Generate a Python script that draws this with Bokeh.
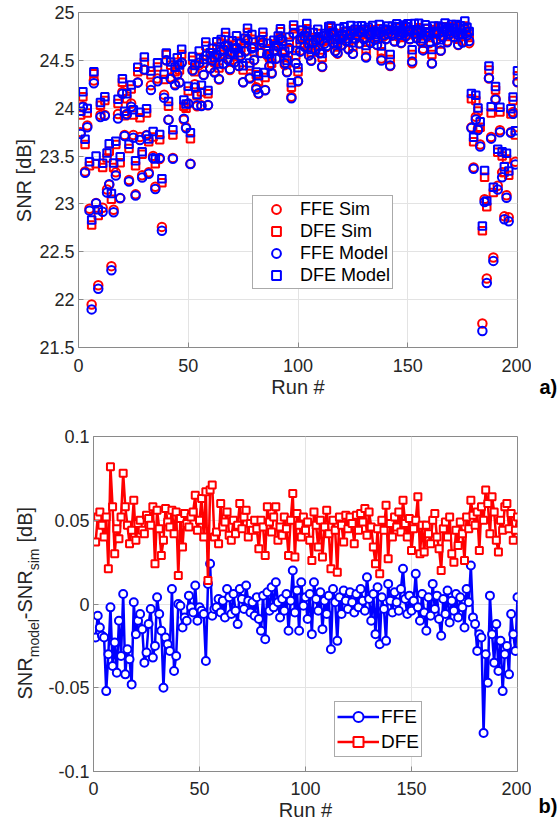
import math
from bokeh.plotting import figure
from bokeh.layouts import column, row
from bokeh.models import Range1d, Legend, LegendItem, FixedTicker
from bokeh.core.properties import value
from bokeh.embed import file_html
from bokeh.resources import INLINE

# ---------------- data ----------------
runs = list(range(1, 201))

ffe_sim = [
    23.75, 24.02, 23.34, 23.82, 22.95, 21.95, 24.29, 23.01, 22.15, 23.93,
    22.96, 23.93, 23.15, 23.20, 22.35, 22.94, 23.33, 23.94, 23.06, 24.17,
    23.72, 23.94, 23.25, 24.05, 23.72, 23.10, 24.27, 23.70, 23.30, 24.40,
    23.72, 23.33, 24.24, 23.50, 23.18, 24.31, 23.47, 22.76, 24.14, 24.50,
    23.88, 24.32, 23.48, 24.25, 24.35, 24.27, 24.48, 23.88, 23.80, 24.05,
    23.42, 24.40, 24.25, 24.02, 24.45, 24.03, 24.35, 24.55, 24.03, 24.42,
    24.50, 24.38, 24.55, 24.30, 24.60, 24.46, 24.66, 24.52, 24.40, 24.58,
    24.48, 24.62, 24.44, 24.55, 24.27, 24.60, 24.71, 24.32, 24.64, 24.50,
    24.22, 24.15, 24.58, 24.68, 24.19, 24.55, 24.44, 24.37, 24.60, 24.52,
    24.64, 24.74, 24.58, 24.45, 24.38, 24.62, 24.12, 24.77, 24.47, 24.28,
    24.60, 24.72, 24.66, 24.78, 24.55, 24.50, 24.68, 24.62, 24.73, 24.58,
    24.43, 24.70, 24.64, 24.76, 24.80, 24.68, 24.60, 24.57, 24.72, 24.66,
    24.75, 24.70, 24.62, 24.77, 24.57, 24.72, 24.76, 24.68, 24.78, 24.72,
    24.54, 24.77, 24.70, 24.78, 24.74, 24.66, 24.79, 24.52, 24.75, 24.72,
    24.78, 24.44, 24.76, 24.70, 24.80, 24.74, 24.68, 24.79, 24.75, 24.81,
    24.72, 24.47, 24.78, 24.74, 24.80, 24.70, 24.62, 24.79, 24.76, 24.68,
    24.47, 24.78, 24.72, 24.80, 24.60, 24.75, 24.82, 24.70, 24.77, 24.81,
    24.74, 24.80, 24.66, 24.78, 24.70, 24.82, 24.76, 24.68, 23.80, 23.38,
    23.91, 23.79, 23.62, 21.75, 23.05, 22.22, 24.31, 23.70, 22.44, 24.10,
    23.19, 23.77, 23.33, 22.87, 23.09, 22.86, 23.75, 23.96, 23.44, 24.27,
]

dfe_sim = [
    23.93, 24.12, 23.62, 23.95, 23.40, 22.78, 24.36, 23.42, 22.88, 24.03,
    23.38, 24.08, 23.48, 23.55, 23.05, 23.38, 23.62, 24.05, 23.43, 24.27,
    23.92, 24.10, 23.58, 24.20, 23.93, 23.40, 24.38, 23.90, 23.52, 24.48,
    23.95, 23.65, 24.35, 23.70, 23.42, 24.43, 23.67, 23.22, 24.30, 24.56,
    24.02, 24.45, 23.72, 24.38, 24.48, 24.40, 24.56, 24.02, 24.00, 24.18,
    23.68, 24.50, 24.38, 24.13, 24.53, 24.17, 24.47, 24.65, 24.15, 24.52,
    24.58, 24.48, 24.64, 24.42, 24.68, 24.56, 24.75, 24.60, 24.50, 24.66,
    24.57, 24.70, 24.54, 24.63, 24.40, 24.68, 24.79, 24.44, 24.72, 24.59,
    24.35, 24.28, 24.66, 24.75, 24.32, 24.62, 24.53, 24.47, 24.67, 24.60,
    24.71, 24.80, 24.65, 24.53, 24.47, 24.69, 24.22, 24.83, 24.55, 24.38,
    24.67, 24.78, 24.73, 24.83, 24.63, 24.58, 24.74, 24.69, 24.78, 24.65,
    24.53, 24.76, 24.71, 24.81, 24.84, 24.74, 24.67, 24.64, 24.78, 24.72,
    24.80, 24.76, 24.69, 24.81, 24.64, 24.77, 24.81, 24.74, 24.82, 24.77,
    24.61, 24.81, 24.75, 24.82, 24.79, 24.72, 24.83, 24.59, 24.80, 24.77,
    24.82, 24.51, 24.81, 24.76, 24.84, 24.79, 24.74, 24.83, 24.80, 24.85,
    24.77, 24.56, 24.82, 24.79, 24.84, 24.76, 24.68, 24.83, 24.80, 24.74,
    24.56, 24.82, 24.77, 24.84, 24.67, 24.80, 24.85, 24.75, 24.81, 24.85,
    24.79, 24.84, 24.72, 24.82, 24.75, 24.86, 24.80, 24.74, 24.10, 23.65,
    24.08, 23.97, 23.80, 22.72, 23.28, 22.97, 24.40, 23.95, 23.12, 24.19,
    23.54, 23.96, 23.50, 23.33, 23.47, 23.30, 23.94, 24.08, 23.72, 24.34,
]

# SNR_model - SNR_sim [dB]
ffe_diff = [
    -0.020, -0.007, -0.014, -0.019, -0.020, -0.052, -0.030, -0.002, -0.037, -0.023,
    -0.041, -0.010, -0.031, 0.006, -0.042, -0.027, -0.033, -0.048, 0.001, -0.018,
    -0.010, -0.006, -0.015, -0.035, -0.029, -0.012, -0.003, -0.032, -0.025, 0.004,
    -0.006, -0.016, -0.050, -0.020, -0.024, -0.028, 0.009, -0.040, -0.031, 0.000,
    -0.001, -0.014, -0.008, -0.010, 0.005, -0.002, -0.005, 0.011, -0.010, -0.002,
    -0.004, -0.006, -0.034, 0.012, 0.024, -0.007, -0.003, -0.002, 0.003, -0.005,
    0.002, -0.008, 0.009, 0.004, -0.006, 0.006, -0.004, -0.012, 0.009, 0.003,
    -0.003, 0.011, 0.002, -0.005, 0.001, -0.007, 0.004, -0.009, -0.016, 0.005,
    -0.021, 0.007, -0.004, 0.010, -0.002, 0.013, 0.001, -0.008, 0.003, -0.004,
    0.006, -0.016, 0.002, 0.020, -0.005, 0.008, -0.016, 0.013, -0.001, 0.004,
    -0.009, 0.006, -0.018, 0.013, 0.003, -0.004, 0.007, -0.015, 0.002, -0.006,
    0.005, -0.027, 0.009, 0.001, -0.022, 0.004, -0.006, 0.008, 0.002, -0.003,
    0.007, 0.001, -0.005, 0.006, -0.002, 0.009, 0.002, -0.004, 0.016, 0.003,
    -0.010, 0.006, -0.018, 0.010, -0.024, 0.004, -0.003, -0.022, 0.012, 0.002,
    -0.005, 0.007, 0.001, -0.004, 0.009, 0.021, 0.003, -0.006, 0.005, -0.004,
    0.002, 0.018, -0.002, -0.010, 0.006, -0.005, -0.016, 0.004, -0.007, 0.012,
    -0.003, 0.005, -0.009, -0.019, 0.003, -0.006, 0.008, -0.011, 0.002, -0.004,
    0.006, -0.008, 0.004, -0.002, -0.014, 0.009, 0.001, 0.023, -0.008, -0.012,
    -0.028, -0.018, -0.020, -0.077, -0.030, -0.047, 0.005, -0.018, -0.035, -0.012,
    -0.040, -0.022, -0.052, -0.030, -0.025, -0.042, -0.006, -0.018, -0.028, 0.004,
]

dfe_diff = [
    0.037, 0.052, 0.055, 0.047, 0.040, 0.052, 0.021, 0.082, 0.058, 0.030,
    0.045, 0.039, 0.052, 0.078, 0.058, 0.047, 0.036, 0.044, 0.062, 0.038,
    0.048, 0.050, 0.044, 0.042, 0.053, 0.051, 0.047, 0.058, 0.024, 0.056,
    0.045, 0.029, 0.038, 0.057, 0.049, 0.046, 0.056, 0.042, 0.055, 0.017,
    0.051, 0.034, 0.054, 0.048, 0.046, 0.052, 0.055, 0.065, 0.044, 0.050,
    0.063, 0.040, 0.067, 0.014, 0.068, 0.071, 0.040, 0.043, 0.036, 0.060,
    0.046, 0.049, 0.055, 0.041, 0.038, 0.050, 0.042, 0.047, 0.060, 0.045,
    0.052, 0.056, 0.040, 0.048, 0.044, 0.050, 0.045, 0.033, 0.050, 0.046,
    0.029, 0.058, 0.049, 0.043, 0.052, 0.058, 0.038, 0.046, 0.041, 0.052,
    0.045, 0.029, 0.050, 0.066, 0.028, 0.054, 0.047, 0.040, 0.052, 0.044,
    0.049, 0.038, 0.026, 0.055, 0.047, 0.034, 0.050, 0.028, 0.046, 0.056,
    0.042, 0.021, 0.050, 0.044, 0.019, 0.052, 0.047, 0.037, 0.053, 0.045,
    0.052, 0.048, 0.036, 0.053, 0.044, 0.054, 0.049, 0.057, 0.041, 0.055,
    0.046, 0.034, 0.024, 0.045, 0.018, 0.050, 0.044, 0.059, 0.027, 0.048,
    0.040, 0.052, 0.046, 0.055, 0.043, 0.062, 0.048, 0.040, 0.051, 0.032,
    0.045, 0.050, 0.064, 0.030, 0.047, 0.031, 0.047, 0.042, 0.036, 0.050,
    0.054, 0.040, 0.033, 0.020, 0.045, 0.049, 0.040, 0.052, 0.030, 0.025,
    0.044, 0.035, 0.049, 0.042, 0.026, 0.052, 0.045, 0.062, 0.053, 0.047,
    0.055, 0.032, 0.058, 0.050, 0.068, 0.060, 0.042, 0.064, 0.055, 0.038,
    0.031, 0.050, 0.044, 0.058, 0.060, 0.045, 0.054, 0.038, 0.044, 0.052,
]

ffe_model = [s + d for s, d in zip(ffe_sim, ffe_diff)]
dfe_model = [s + d for s, d in zip(dfe_sim, dfe_diff)]

x_ticks = [0, 50, 100, 150, 200]
x_tick_labels = ["0", "50", "100", "150", "200"]
snr_ticks = [21.5, 22, 22.5, 23, 23.5, 24, 24.5, 25]
snr_tick_labels = ["21.5", "22", "22.5", "23", "23.5", "24", "24.5", "25"]
diff_ticks = [-0.1, -0.05, 0, 0.05, 0.1]
diff_tick_labels = ["-0.1", "-0.05", "0", "0.05", "0.1"]

# ---------------- style ----------------
FONT = "Liberation Sans"
TXT = "#262626"
AX = "#8a8a8a"
GRID = "#e3e3e3"
RED = "#ff0000"
BLUE = "#0000ff"
TICK_FS = "18px"
LAB_FS = "20px"


def style(p, yticks, ylabels, x_standoff):
    xa, ya = p.below[0], p.left[0]
    xa.ticker = FixedTicker(ticks=x_ticks)
    ya.ticker = FixedTicker(ticks=yticks)
    xa.major_label_overrides = dict(zip(x_ticks, x_tick_labels))
    ya.major_label_overrides = dict(zip(yticks, ylabels))
    for ax in (xa, ya):
        ax.axis_line_color = AX
        ax.major_tick_line_color = AX
        ax.major_tick_in = 5
        ax.major_tick_out = 0
        ax.minor_tick_in = 0
        ax.minor_tick_out = 0
        ax.major_label_text_font = FONT
        ax.major_label_text_font_size = TICK_FS
        ax.major_label_text_color = TXT
        ax.axis_label_text_font = FONT
        ax.axis_label_text_font_size = LAB_FS
        ax.axis_label_text_font_style = "normal"
        ax.axis_label_text_color = TXT
    xa.major_label_standoff = x_standoff
    xa.axis_label = "Run #"
    xa.axis_label_standoff = 1
    ya.major_label_standoff = 4
    p.xgrid.grid_line_color = GRID
    p.ygrid.grid_line_color = GRID
    p.outline_line_color = AX
    return xa, ya


def helper(w, h):
    # plain canvas: data units == pixels, y measured from the bottom
    f = figure(width=w, height=h, x_range=Range1d(0, w), y_range=Range1d(0, h),
               output_backend="svg", toolbar_location=None, min_border=0,
               x_axis_type=None, y_axis_type=None, outline_line_color=None)
    f.grid.visible = False
    return f


H1, H2 = 418, 407

# ---------------- top figure ----------------
p1 = figure(width=495, height=H1, x_range=Range1d(0, 200), y_range=Range1d(21.5, 25),
            output_backend="svg", toolbar_location=None,
            min_border_left=42, min_border_right=14, min_border_top=12, min_border_bottom=71)
style(p1, snr_ticks, snr_tick_labels, 11)

r1 = p1.scatter(runs, ffe_sim, marker="circle", size=8.5, line_color=RED, fill_color=None, line_width=2)
r2 = p1.scatter(runs, dfe_sim, marker="square", size=7.5, line_color=RED, fill_color=None, line_width=2)
r3 = p1.scatter(runs, ffe_model, marker="circle", size=8.5, line_color=BLUE, fill_color=None, line_width=2)
r4 = p1.scatter(runs, dfe_model, marker="square", size=7.5, line_color=BLUE, fill_color=None, line_width=2)

leg1 = Legend(items=[LegendItem(label="FFE Sim", renderers=[r1]),
                     LegendItem(label="DFE Sim", renderers=[r2]),
                     LegendItem(label="FFE Model", renderers=[r3]),
                     LegendItem(label="DFE Model", renderers=[r4])],
              location=(174, 58), margin=0, padding=2, spacing=0,
              glyph_width=42, glyph_height=22, label_height=22, label_standoff=3,
              label_text_font=FONT, label_text_font_size="18px", label_text_color="#000000",
              border_line_color="#555555", border_line_width=1, background_fill_color="white",
              background_fill_alpha=1)
p1.add_layout(leg1)

ylab1 = helper(36, H1)
ylab1.text(x=[23], y=[H1 - 180], text=["SNR [dB]"], angle=math.pi / 2,
           text_align="center", text_baseline="middle",
           text_font=value(FONT), text_font_size=value(LAB_FS), text_color=TXT)
side1 = helper(28, H1)
side1.text(x=[8], y=[H1 - 386], text=["a)"], text_align="left", text_baseline="middle",
           text_font=value(FONT), text_font_size=value("20px"), text_font_style="bold",
           text_color="#000000")

# ---------------- bottom figure ----------------
p2 = figure(width=487, height=H2, x_range=Range1d(0, 200), y_range=Range1d(-0.1, 0.1),
            output_backend="svg", toolbar_location=None,
            min_border_left=49, min_border_right=14, min_border_top=18, min_border_bottom=54)
style(p2, diff_ticks, diff_tick_labels, 10)

l_ffe = p2.line(runs, ffe_diff, line_color=BLUE, line_width=2.5)
s_ffe = p2.scatter(runs, ffe_diff, marker="circle", size=8, line_color=BLUE, fill_color="white", line_width=2)
l_dfe = p2.line(runs, dfe_diff, line_color=RED, line_width=2.5)
s_dfe = p2.scatter(runs, dfe_diff, marker="square", size=7, line_color=RED, fill_color="white", line_width=2)

leg2 = Legend(items=[LegendItem(label="FFE", renderers=[l_ffe, s_ffe]),
                     LegendItem(label="DFE", renderers=[l_dfe, s_dfe])],
              location=(241, 14), margin=0, padding=2, spacing=0,
              glyph_width=42, glyph_height=25, label_height=25, label_standoff=2,
              label_text_font=FONT, label_text_font_size="19px", label_text_color="#000000",
              border_line_color="#555555", border_line_width=1, background_fill_color="white",
              background_fill_alpha=1)
p2.add_layout(leg2)

# rotated y label: SNR_model - SNR_sim [dB]  (helper canvas, y measured from its bottom)
ylab2 = helper(44, H2)
W = {"S": .667, "N": .722, "R": .722, "m": .833, "o": .556, "d": .556, "e": .556, "l": .222,
     "-": .333, "s": .5, "i": .222, " ": .278, "[": .278, "D": .722, "B": .667, "]": .278}
segs = [("SNR", 20, False, 0), ("model", 14, True, 0), ("-SNR", 20, False, 0),
        ("sim", 14, True, 0), ("[dB]", 20, False, 6)]
pos = H2 - (699 - H1)
for txt, fs, sub, gap in segs:
    pos += gap
    ylab2.text(x=[33 if sub else 24], y=[pos], text=[txt], angle=math.pi / 2,
               text_align="left", text_baseline="middle",
               text_font=value(FONT), text_font_size=value(f"{fs}px"), text_color=TXT)
    pos += sum(W[c] for c in txt) * fs

side2 = helper(28, H2)
side2.text(x=[7], y=[H2 - (805 - H1)], text=["b)"], text_align="left", text_baseline="middle",
           text_font=value(FONT), text_font_size=value("20px"), text_font_style="bold",
           text_color="#000000")

layout = column(row(column(ylab1), p1, column(side1)),
                row(column(ylab2), p2, column(side2)))
open("out.html", "w").write(file_html(layout, INLINE))
